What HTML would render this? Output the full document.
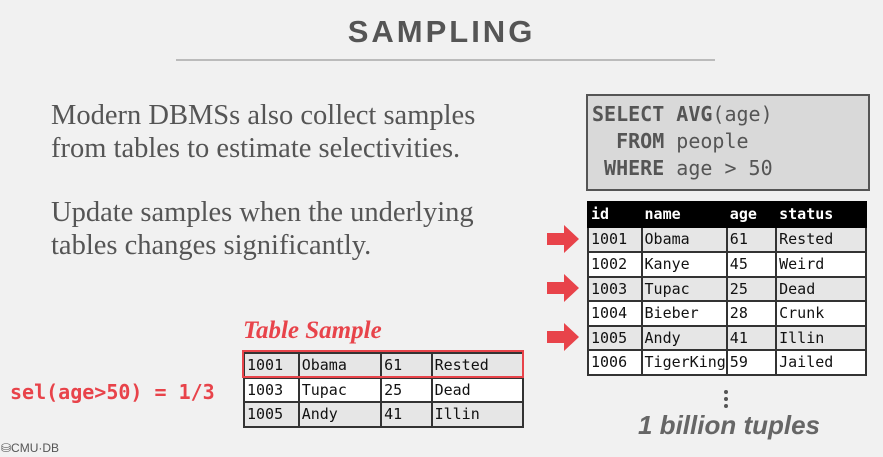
<!DOCTYPE html>
<html><head><meta charset="utf-8"><style>
body{margin:0;width:883px;height:457px;background:#f1f1f1;position:relative;overflow:hidden;font-family:"Liberation Sans",sans-serif}
.a{position:absolute;white-space:nowrap}
.serif{font-family:"Liberation Serif",serif;color:#555;font-size:28.5px;line-height:33px}
.mono{font-family:"DejaVu Sans Mono","Liberation Mono",monospace}
table{border-collapse:collapse;position:absolute;font-family:"DejaVu Sans Mono","Liberation Mono",monospace;font-size:15px;color:#111}
td{border:2px solid #333;padding:0 0 0 2px;height:21px;line-height:21px;box-sizing:border-box}
tr.g td{background:#e6e6e6}
tr.w td{background:#fff}
tr.h td{background:#000;color:#fff;font-weight:bold;border-color:#000}
.arr{position:absolute;width:32px;height:28px}
</style></head><body>
<div class="a" style="left:0;width:883px;top:14px;text-align:center;font-size:31px;font-weight:bold;color:#555;letter-spacing:3px">SAMPLING</div>
<div class="a" style="left:176px;top:59px;width:539px;height:2px;background:#bbb"></div>

<div class="a serif" style="left:51px;top:99px">Modern DBMSs also collect samples<br>from tables to estimate selectivities.</div>
<div class="a serif" style="left:51px;top:196px">Update samples when the underlying<br>tables changes significantly.</div>

<div class="a mono" style="left:586px;top:94px;width:276px;background:#d9d9d9;border:2px solid #555;color:#555;font-size:20px;line-height:27px;padding:5px 0 0 4px;height:88px;white-space:pre"><b>SELECT AVG</b>(age)
  <b>FROM</b> people
 <b>WHERE</b> age &gt; 50</div>

<table style="left:587px;top:201px;width:280px">
<colgroup><col style="width:54px"><col style="width:85px"><col style="width:50px"><col style="width:91px"></colgroup>
<tr class="h" style="height:25px"><td>id</td><td>name</td><td>age</td><td>status</td></tr>
<tr class="g" style="height:25px"><td>1001</td><td>Obama</td><td>61</td><td>Rested</td></tr>
<tr class="w" style="height:25px"><td>1002</td><td>Kanye</td><td>45</td><td>Weird</td></tr>
<tr class="g" style="height:24px"><td>1003</td><td>Tupac</td><td>25</td><td>Dead</td></tr>
<tr class="w" style="height:25px"><td>1004</td><td>Bieber</td><td>28</td><td>Crunk</td></tr>
<tr class="g" style="height:24px"><td>1005</td><td>Andy</td><td>41</td><td>Illin</td></tr>
<tr class="w" style="height:25px"><td>1006</td><td>TigerKing</td><td>59</td><td>Jailed</td></tr>
</table>

<svg class="arr" style="left:547px;top:225px" viewBox="0 0 32 28"><polygon points="0,8 17,8 17,0 32,14 17,28 17,20 0,20" fill="#e8434a"/></svg>
<svg class="arr" style="left:547px;top:274px" viewBox="0 0 32 28"><polygon points="0,8 17,8 17,0 32,14 17,28 17,20 0,20" fill="#e8434a"/></svg>
<svg class="arr" style="left:547px;top:323px" viewBox="0 0 32 28"><polygon points="0,8 17,8 17,0 32,14 17,28 17,20 0,20" fill="#e8434a"/></svg>

<div class="a" style="left:724px;top:390px;width:4px;height:4px;border-radius:2px;background:#555"></div>
<div class="a" style="left:724px;top:397px;width:4px;height:4px;border-radius:2px;background:#555"></div>
<div class="a" style="left:724px;top:404px;width:4px;height:4px;border-radius:2px;background:#555"></div>
<div class="a" style="left:638px;top:410px;font-size:26px;font-style:italic;font-weight:bold;color:#666">1 billion tuples</div>

<div class="a" style="left:243px;top:317px;font-family:'Liberation Serif',serif;font-size:25px;font-style:italic;font-weight:bold;color:#e8434a">Table Sample</div>
<table style="left:243px;top:352px;width:281px">
<colgroup><col style="width:55px"><col style="width:83px"><col style="width:51px"><col style="width:92px"></colgroup>
<tr class="g" style="height:25px"><td>1001</td><td>Obama</td><td>61</td><td>Rested</td></tr>
<tr class="w" style="height:24px"><td>1003</td><td>Tupac</td><td>25</td><td>Dead</td></tr>
<tr class="g" style="height:25px"><td>1005</td><td>Andy</td><td>41</td><td>Illin</td></tr>
</table>
<div class="a" style="left:242px;top:350px;width:278px;height:24px;border:2px solid #e8434a"></div>

<div class="a mono" style="left:10px;top:380px;font-size:20px;font-weight:bold;color:#e8434a">sel(age&gt;50) = 1/3</div>
<div class="a" style="left:1px;top:441px;font-size:12px;color:#555">⛁CMU·DB</div>
</body></html>
